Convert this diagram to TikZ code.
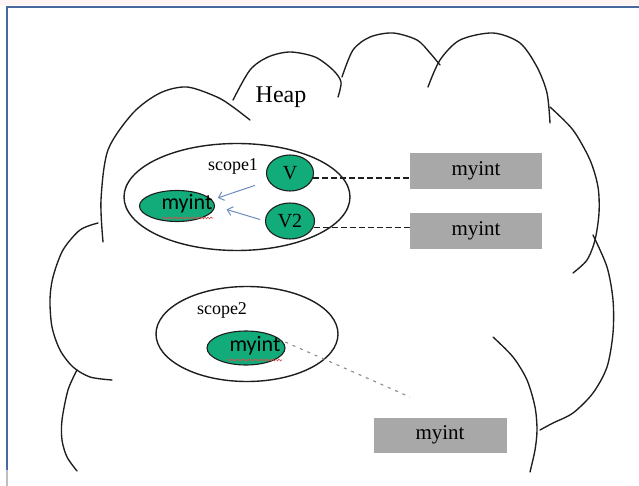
\documentclass[tikz,border=0pt]{standalone}
\usepackage{fontspec}
\setmainfont{Liberation Serif}
\newfontfamily\calib{Carlito}
\usetikzlibrary{shapes.geometric,arrows.meta,decorations.pathmorphing}
\definecolor{frameblue}{RGB}{74,104,160}
\definecolor{tealgreen}{RGB}{18,172,122}
\definecolor{boxgray}{RGB}{168,168,168}
\definecolor{arrblue}{RGB}{110,140,190}
\definecolor{squigred}{RGB}{210,80,80}
\definecolor{dotgray}{RGB}{140,140,140}
\definecolor{inkgray}{RGB}{30,30,30}
\begin{document}
\begin{tikzpicture}[x=1pt,y=-1pt,
  cloudline/.style={inkgray, line width=1.35pt, line cap=round},
  scopeell/.style={ellipse, draw=inkgray, line width=1.4pt, inner sep=0pt},
  greenell/.style={ellipse, draw=inkgray, fill=tealgreen, line width=1.1pt, inner sep=0pt},
  graybox/.style={rectangle, fill=boxgray, inner sep=0pt, minimum width=132pt, minimum height=36pt, font=\fontsize{21}{21}\selectfont},
  serifbig/.style={font=\fontsize{24}{24}\selectfont, inner sep=0pt},
  seriflbl/.style={font=\fontsize{18}{18}\selectfont, inner sep=0pt},
  sanslbl/.style={font=\calib\fontsize{22}{22}\selectfont, inner sep=0pt},
  vlbl/.style={font=\fontsize{20}{20}\selectfont},
  refline/.style={inkgray, dash pattern=on 6pt off 3pt, line width=1.2pt},
  dimline/.style={dotgray, dash pattern=on 3pt off 5pt, line width=1.1pt},
  bluearrow/.style={arrblue, line width=1pt, -{Straight Barb[length=5pt,width=9pt]}},
  squiggle/.style={squigred, line width=0.6pt, decorate, decoration={snake, amplitude=0.9pt, segment length=3pt}}
]
\useasboundingbox (0,0) rectangle (639,486);
\fill[white] (0,0) rectangle (639,486);
% frame
\fill[red!4] (0,0) rectangle (639,5);
\draw[frameblue, line width=2pt] (7,470) -- (7,7) -- (639,7);
\draw[gray!50, line width=2pt] (7,470) -- (7,486);

% cloud lobes
\draw[cloudline] plot[smooth] coordinates {(103,242) (101,200) (108,150) (133,113) (160,93) (187,87) (217,97) (233,107) (250,120)};
\draw[cloudline] plot[smooth] coordinates {(233,100) (250,70) (268,57) (290,52) (315,57) (333,70) (341,82) (338,97)};
\draw[cloudline] plot[smooth] coordinates {(342,77) (353,50) (370,37) (393,33) (417,40) (430,53) (440,65)};
\draw[cloudline] plot[smooth] coordinates {(428,87) (440,60) (460,40) (493,33) (520,43) (537,67) (547,93) (550,123)};
\draw[cloudline] plot[smooth] coordinates {(550,107) (573,130) (590,160) (598,187) (599,213) (595,240) (587,260) (573,273)};
\draw[cloudline] plot[smooth] coordinates {(593,235) (607,267) (613,300) (613,333) (607,367) (593,393) (573,413) (553,423) (540,430)};
\draw[cloudline] plot[smooth] coordinates {(493,337) (513,357) (527,380) (535,407) (537,430) (535,450) (530,472)};
\draw[cloudline] plot[smooth] coordinates {(98,223) (80,230) (63,250) (53,277) (50,300) (52,327) (60,350) (73,367) (90,377) (112,380)};
\draw[cloudline] plot[smooth] coordinates {(77,370) (68,390) (62,420) (62,440) (67,457) (77,471)};

\node[serifbig] (heap) at (281,97) {Heap};

% scope 1
\node[scopeell, minimum width=226pt, minimum height=107pt] (s1) at (237,197) {};
\node[seriflbl] (s1lbl) at (233,166) {scope1};
\node[greenell, minimum width=75pt, minimum height=31pt] (m1) at (177,206) {};
\node[sanslbl] (m1t) at (187,204) {myint};
\draw[squiggle] (162,218) -- (213,218);
\node[greenell, minimum width=47pt, minimum height=36pt, vlbl] (V) at (290,173) {V};
\node[greenell, minimum width=49pt, minimum height=36pt, vlbl] (V2) at (290,221) {V2};

\draw[bluearrow, shorten <=14pt, shorten >=6pt] (V.200) -- (m1.10);
\draw[bluearrow, shorten <=5pt, shorten >=12pt] (V2.west) -- (m1.east);

% scope 2
\node[scopeell, minimum width=182pt, minimum height=95pt] (s2) at (247,334) {};
\node[seriflbl] (s2lbl) at (222,310) {scope2};
\node[greenell, minimum width=78pt, minimum height=34pt] (m2) at (246,348) {};
\node[sanslbl] (m2t) at (255,346) {myint};
\draw[squiggle] (227,360) -- (282,360);

% gray boxes
\node[graybox] (b1) at (476,171) {myint};
\node[graybox] (b2) at (476,231) {myint};
\node[graybox, minimum width=133pt, minimum height=35pt] (b3) at (440,435) {myint};

% reference lines
\draw[refline] (V.-12) -- (V.-12 -| b1.west);
\draw[refline] (V2.-15) -- (V2.-15 -| b2.west);
\coordinate (e3) at (410,397);
\draw[dimline, shorten <=4pt] (m2.12) -- (e3);
\end{tikzpicture}
\end{document}
